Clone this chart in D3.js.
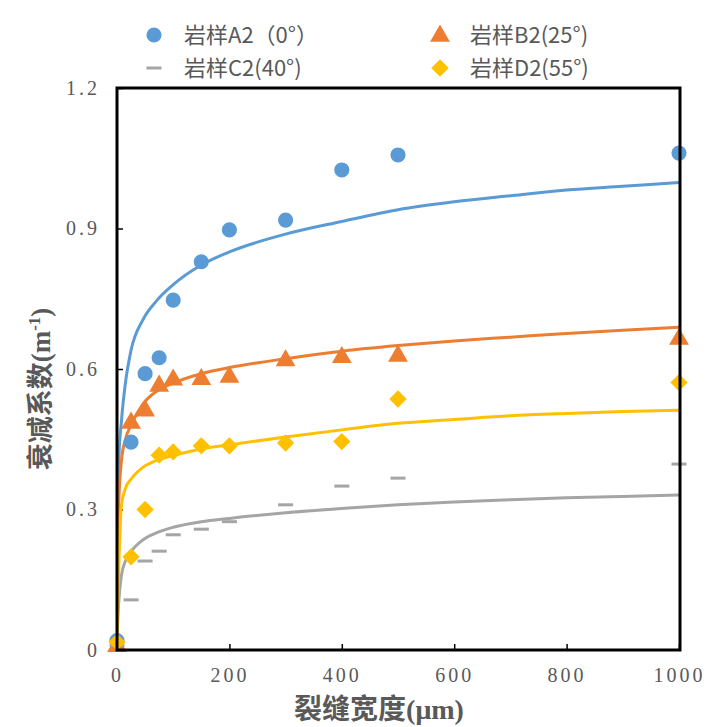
<!DOCTYPE html>
<html lang="zh">
<head>
<meta charset="UTF-8">
<script src="https://cdn.jsdelivr.net/npm/d3@7"></script>
<style>
  body { margin: 0; background: #fff; }
</style>
</head>
<body>
<div id="viz"></div>
<script>
// measured points, crack width (um) vs attenuation coefficient
const widths = [0, 25, 50, 75, 100, 150, 200, 300, 400, 500, 1000]
const sampleA2 = [0.02, 0.444, 0.59, 0.624, 0.747, 0.829, 0.897, 0.918, 1.025, 1.057, 1.061]
const sampleB2 = [0.01, 0.487, 0.513, 0.566, 0.579, 0.58, 0.585, 0.62, 0.627, 0.63, 0.666]
const sampleC2 = [0.01, 0.107, 0.19, 0.211, 0.246, 0.258, 0.274, 0.31, 0.35, 0.367, 0.397]
const sampleD2 = [0.017, 0.199, 0.30, 0.416, 0.423, 0.436, 0.436, 0.442, 0.445, 0.536, 0.571]

// trend lines
const trendX = [1, 3, 8, 15, 25, 46, 70, 100, 150, 200, 300, 400, 500, 600, 700, 800, 900, 1000]
const trendA2 = [0.30, 0.40, 0.49, 0.57, 0.64, 0.705, 0.745, 0.78, 0.822, 0.85, 0.888, 0.915, 0.94, 0.957, 0.97, 0.982, 0.99, 0.998]
const trendB2 = [0.20, 0.31, 0.405, 0.45, 0.48, 0.525, 0.552, 0.57, 0.59, 0.603, 0.622, 0.638, 0.65, 0.66, 0.668, 0.676, 0.683, 0.689]
const trendC2 = [0.05, 0.10, 0.16, 0.19, 0.21, 0.235, 0.25, 0.262, 0.274, 0.281, 0.293, 0.302, 0.31, 0.316, 0.321, 0.325, 0.328, 0.331]
const trendD2 = [0.08, 0.17, 0.31, 0.345, 0.365, 0.39, 0.405, 0.415, 0.429, 0.438, 0.455, 0.47, 0.484, 0.492, 0.5, 0.505, 0.509, 0.512]

const xTicks = [0, 200, 400, 600, 800, 1000]
const yTicks = [0, 0.3, 0.6, 0.9, 1.2]
const names = ["岩样A2（0°）", "岩样B2(25°)", "岩样C2(40°)", "岩样D2(55°)"]
const colors = ["#5B9BD5", "#ED7D31", "#A5A5A5", "#FFC000"]

const width = 706
const height = 727
const margin = {top: 88, left: 117, right: 26, bottom: 77}
const serif = "'Liberation Serif', 'Noto Sans CJK SC', serif"

const svg = d3.select("#viz").append("svg")
    .attr("width", width)
    .attr("height", height)

const xScale = d3.scaleLinear().domain([0, 1000]).range([margin.left, width - margin.right - 1])
const yScale = d3.scaleLinear().domain([0, 1.2]).range([height - margin.bottom, margin.top])

svg.append("clipPath").attr("id", "plot")
  .append("rect")
    .attr("x", margin.left).attr("y", margin.top)
    .attr("width", width - margin.right - margin.left)
    .attr("height", height - margin.bottom - margin.top)

// axes, ticks point inward
const xAxis = svg.append("g")
    .attr("transform", `translate(0,${height - margin.bottom})`)
    .call(d3.axisBottom(xScale).tickValues(xTicks).tickSize(-6).tickPadding(22).tickFormat(d3.format("d")))
const yAxis = svg.append("g")
    .attr("transform", `translate(${margin.left},0)`)
    .call(d3.axisLeft(yScale).tickValues(yTicks).tickSize(-6).tickPadding(17).tickFormat(d => d === 0 ? "0" : d3.format(".1f")(d)))
svg.selectAll(".domain").remove()
svg.selectAll(".tick line").attr("stroke", "#000").attr("stroke-width", 1.5)
svg.selectAll(".tick text")
    .style("font-family", serif)
    .style("font-size", "20px")
    .style("letter-spacing", "3px")
    .attr("fill", "#595959")
xAxis.selectAll(".tick text").attr("dy", "0.5em")

// trend lines
const lineGen = d3.line()
    .x(d => xScale(d[0]))
    .y(d => yScale(d[1]))
    .curve(d3.curveMonotoneX)
const trends = [trendA2, trendB2, trendC2, trendD2]
trends.forEach((t, i) => {
  const pts = [[0, 0]].concat(trendX.map((x, j) => [x, t[j]]))
  svg.append("path")
    .attr("d", lineGen(pts))
    .attr("fill", "none")
    .attr("stroke", colors[i])
    .attr("stroke-width", 3)
    .attr("clip-path", "url(#plot)")
})

// markers
const circle = d3.symbol().type(d3.symbolCircle).size(180)
const tri = d3.symbol().type(d3.symbolTriangle).size(170)
const sq = d3.symbol().type(d3.symbolSquare).size(150)

function drawMarker(g, kind, color) {
  if (kind === 0) g.append("path").attr("d", circle()).attr("fill", color)
  if (kind === 1) g.append("path").attr("d", tri()).attr("fill", color).attr("transform", "translate(0,1)")
  if (kind === 2) g.append("rect").attr("x", -7.5).attr("y", -1.5).attr("width", 15).attr("height", 3).attr("fill", color)
  if (kind === 3) g.append("path").attr("d", sq()).attr("fill", color).attr("transform", "rotate(45)")
}

const samples = [sampleA2, sampleB2, sampleC2, sampleD2]
samples.forEach((s, i) => {
  svg.selectAll(".m" + i)
    .data(widths.map((w, j) => ({x: w, y: s[j]})))
    .enter()
    .append("g")
    .attr("transform", d => `translate(${xScale(d.x)},${yScale(d.y)})`)
    .each(function () { drawMarker(d3.select(this), i, colors[i]) })
})

// frame
svg.append("rect")
    .attr("x", margin.left).attr("y", margin.top)
    .attr("width", width - margin.right - margin.left)
    .attr("height", height - margin.bottom - margin.top)
    .attr("fill", "none")
    .attr("stroke", "#000")
    .attr("stroke-width", 3)

// axis titles
svg.append("text")
    .attr("x", 379)
    .attr("y", 719)
    .attr("text-anchor", "middle")
    .style("font-family", serif)
    .style("font-weight", "bold")
    .style("font-size", "28px")
    .attr("fill", "#595959")
    .text("裂缝宽度(μm)")

const yTitle = svg.append("text")
    .attr("transform", "translate(50,389) rotate(-90)")
    .attr("text-anchor", "middle")
    .style("font-family", serif)
    .style("font-weight", "bold")
    .style("font-size", "27px")
    .attr("fill", "#595959")
yTitle.append("tspan").text("衰减系数(m")
yTitle.append("tspan").attr("dy", -10).style("font-size", "17px").text("-1")
yTitle.append("tspan").attr("dy", 10).text(")")

// legend
const legendPos = [[154, 35], [440, 35], [154, 68], [440, 68]]
names.forEach((n, i) => {
  const g = svg.append("g").attr("transform", `translate(${legendPos[i][0]},${legendPos[i][1]})`)
  drawMarker(g, i, colors[i])
  g.append("text")
    .attr("x", 30)
    .attr("y", 8)
    .style("font-family", "'Noto Sans CJK SC', sans-serif")
    .style("font-size", "22px")
    .attr("fill", "#595959")
    .text(n)
})
</script>
</body>
</html>
